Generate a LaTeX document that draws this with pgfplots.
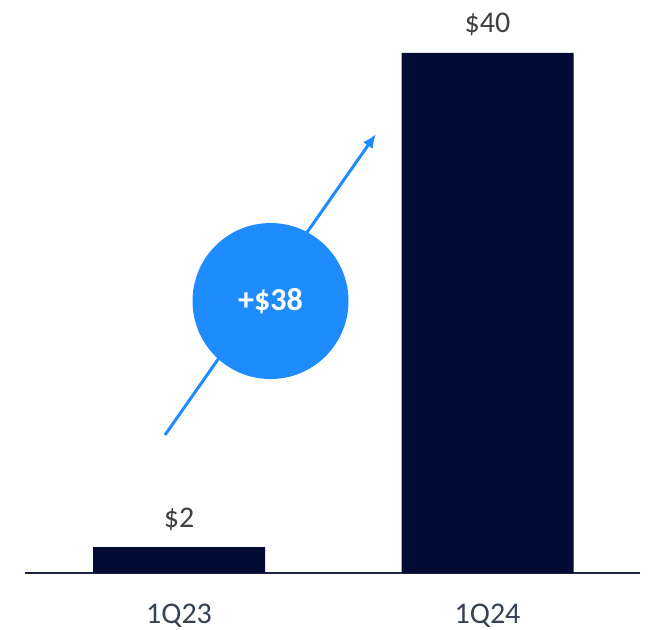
\documentclass[border=0pt]{standalone}
\usepackage{fontspec}
\setmainfont{Carlito}
\usepackage{pgfplots}
\pgfplotsset{compat=1.18}
\usetikzlibrary{arrows.meta}
\definecolor{barnavy}{HTML}{020B33}
\definecolor{axnavy}{HTML}{1C2541}
\definecolor{txtgray}{HTML}{404040}
\definecolor{ticktxt}{HTML}{364152}
\definecolor{circblue}{HTML}{1E8CFF}
\begin{document}
\begin{tikzpicture}[x=1pt,y=1pt]
\useasboundingbox (-25pt,-57pt) rectangle (624pt,573pt);
\begin{axis}[
  at={(0,0)}, anchor=south west,
  scale only axis, width=615pt, height=573pt,
  xmin=-0.4992, xmax=1.4943, ymin=0, ymax=44.077,
  axis x line*=bottom, axis y line=none,
  axis line style={axnavy, line width=2pt, -},
  clip=false,
  xtick={0,1}, xticklabels={1Q23,1Q24},
  major tick length=0pt,
  ytick=\empty,
  /pgf/number format/assume math mode=true,
  xticklabel style={font=\fontsize{30}{34}\selectfont, text=ticktxt, anchor=base, yshift=-50pt},
  nodes near coords={\$\pgfmathprintnumber[assume math mode=true]{\pgfplotspointmeta}},
  every node near coord/.append style={font=\fontsize{30}{34}\selectfont, text=txtgray, anchor=base, yshift=20pt},
]
\addplot[ybar, bar width=172pt, bar shift=0pt, fill=barnavy, draw=none] coordinates {(0,2) (1,40)};
\draw[circblue, line width=3pt, -{Latex[length=14pt,width=12pt]}] (axis cs:-0.0454,10.615) -- (axis cs:0.6386,33.77);
\fill[circblue] (axis cs:0.2966,20.92) circle[radius=78pt];
\node[text=white, font=\bfseries\fontsize{32}{36}\selectfont] at (axis cs:0.2966,20.92) {+\$38};
\end{axis}
\end{tikzpicture}
\end{document}
